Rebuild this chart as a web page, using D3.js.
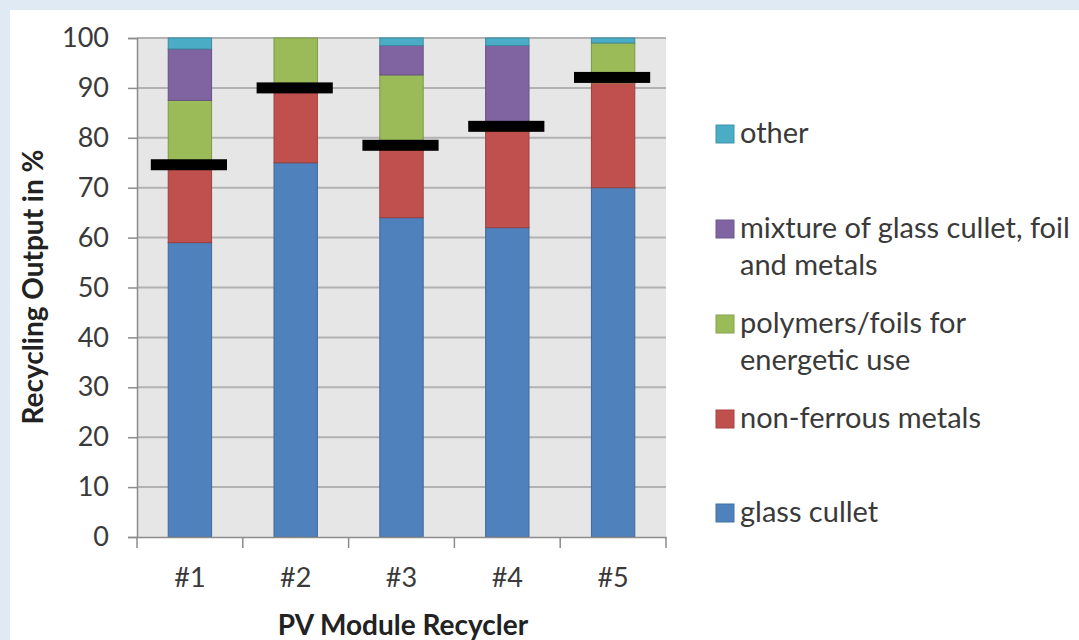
<!DOCTYPE html>
<html><head><meta charset="utf-8">
<script src="https://cdn.jsdelivr.net/npm/d3@7"></script>
<style>
html,body{margin:0;padding:0;background:#dfeaf5;}
svg{display:block;}
</style></head>
<body>
<svg id="chart" width="1079" height="640"></svg>
<script>
const categories = ["#1", "#2", "#3", "#4", "#5"];
const glassCullet = [59, 75, 64, 62, 70];
const nonFerrous = [15, 15, 14, 20, 21];
const polymers = [13.5, 10, 14.6, 0, 8];
const mixture = [10.3, 0, 5.9, 16.5, 0];
const other = [2.2, 0, 1.5, 1.5, 1];
const recyclingRate = [74.6, 90, 78.5, 82.3, 92.1];
const yTicks = [0, 10, 20, 30, 40, 50, 60, 70, 80, 90, 100];

const seriesNames = ["glass cullet", "non-ferrous metals", "polymers/foils for energetic use", "mixture of glass cullet, foil and metals", "other"];
const seriesValues = [glassCullet, nonFerrous, polymers, mixture, other];
const colors = ["#4f81bd", "#c0504d", "#9bbb59", "#8064a2", "#4bacc6"];
const legendLines = [["glass cullet"], ["non-ferrous metals"], ["polymers/foils for", "energetic use"], ["mixture of glass cullet, foil", "and metals"], ["other"]];

const svg = d3.select("#chart");
const font = "Lato, 'Open Sans', sans-serif";
const textColor = "#3a3a3a";

svg.append("rect").attr("x", 10).attr("y", 10).attr("width", 1069).attr("height", 630).attr("fill", "#ffffff");

const pL = 137, pR = 666, pT = 38, pB = 537;
const x = d3.scaleBand().domain(categories).range([pL, pR]).padding(0);
const y = d3.scaleLinear().domain([0, 100]).range([pB, pT]);

// plot background
svg.append("rect").attr("x", pL).attr("y", pT).attr("width", pR - pL).attr("height", pB - pT).attr("fill", "#e6e6e6");

// gridlines
svg.append("g").selectAll("line").data(yTicks.filter(d => d > 0)).join("line")
  .attr("x1", pL).attr("x2", pR)
  .attr("y1", d => y(d)).attr("y2", d => y(d))
  .attr("stroke", "#b2b2b2").attr("stroke-width", 2);

// stacked bars
const table = categories.map((c, i) => {
  const o = { cat: c };
  seriesNames.forEach((s, j) => o[s] = seriesValues[j][i]);
  return o;
});
const stack = d3.stack().keys(seriesNames)(table);
const barW = x.bandwidth() * 0.41;

svg.append("g").selectAll("g").data(stack).join("g")
  .attr("fill", (d, i) => colors[i])
  .attr("stroke", (d, i) => d3.color(colors[i]).darker(0.6))
  .attr("stroke-width", 1)
  .selectAll("rect").data(d => d.filter(p => p[1] - p[0] > 0)).join("rect")
  .attr("x", d => x(d.data.cat) + x.bandwidth() / 2 - barW / 2)
  .attr("width", barW)
  .attr("y", d => y(d[1]))
  .attr("height", d => y(d[0]) - y(d[1]));

// recycling rate markers
const markW = x.bandwidth() * 0.72, markH = 11;
svg.append("g").selectAll("rect").data(recyclingRate).join("rect")
  .attr("x", (d, i) => x(categories[i]) + x.bandwidth() / 2 - markW / 2 - 1)
  .attr("width", markW)
  .attr("y", d => y(d) - markH / 2)
  .attr("height", markH)
  .attr("fill", "#000000");

// Y axis
const yAxis = d3.axisLeft(y).tickValues(yTicks).tickSize(9).tickPadding(19);
const gy = svg.append("g").attr("transform", `translate(${pL},0)`).call(yAxis);
gy.select(".domain").attr("stroke", "#8c8c8c").attr("stroke-width", 1.5);
gy.selectAll(".tick line").attr("stroke", "#8c8c8c").attr("stroke-width", 1.5);
gy.selectAll(".tick text").attr("font-family", font).attr("font-size", 27).attr("fill", textColor);

// X axis
const xAxis = d3.axisBottom(x).tickSize(0).tickPadding(31);
const gx = svg.append("g").attr("transform", `translate(0,${pB})`).call(xAxis);
gx.select(".domain").attr("stroke", "#8c8c8c").attr("stroke-width", 1.5);
gx.selectAll(".tick text").attr("font-family", font).attr("font-size", 27).attr("fill", textColor);
// boundary ticks
const bounds = categories.map(c => x(c)).concat([pR]);
gx.append("g").selectAll("line").data(bounds).join("line")
  .attr("x1", d => d).attr("x2", d => d).attr("y1", 0).attr("y2", 11)
  .attr("stroke", "#8c8c8c").attr("stroke-width", 1.5);

// axis titles
svg.append("text").attr("x", 403).attr("y", 635)
  .attr("text-anchor", "middle").attr("font-family", font).attr("font-weight", "bold")
  .attr("font-size", 28).attr("fill", "#222").text("PV Module Recycler");
svg.append("text").attr("transform", "translate(43,287) rotate(-90)")
  .attr("text-anchor", "middle").attr("font-family", font).attr("font-weight", "bold")
  .attr("font-size", 28).attr("fill", "#222").text("Recycling Output in %");

// legend (top to bottom: other, mixture, polymers, non-ferrous, glass)
const legendY = [134, 229, 324, 419, 513];
const legendOrder = [4, 3, 2, 1, 0];
const lg = svg.append("g");
legendOrder.forEach((si, k) => {
  const cy = legendY[k];
  lg.append("rect").attr("x", 716).attr("y", cy - 9).attr("width", 18).attr("height", 18)
    .attr("fill", colors[si]).attr("stroke", d3.color(colors[si]).darker(0.4)).attr("stroke-width", 1);
  const t = lg.append("text").attr("x", 740).attr("y", cy + 9)
    .attr("font-family", font).attr("font-size", 29).attr("fill", textColor);
  legendLines[si].forEach((line, li) => {
    t.append("tspan").attr("x", 740).attr("dy", li === 0 ? 0 : 37).text(line);
  });
});
</script>
</body></html>
